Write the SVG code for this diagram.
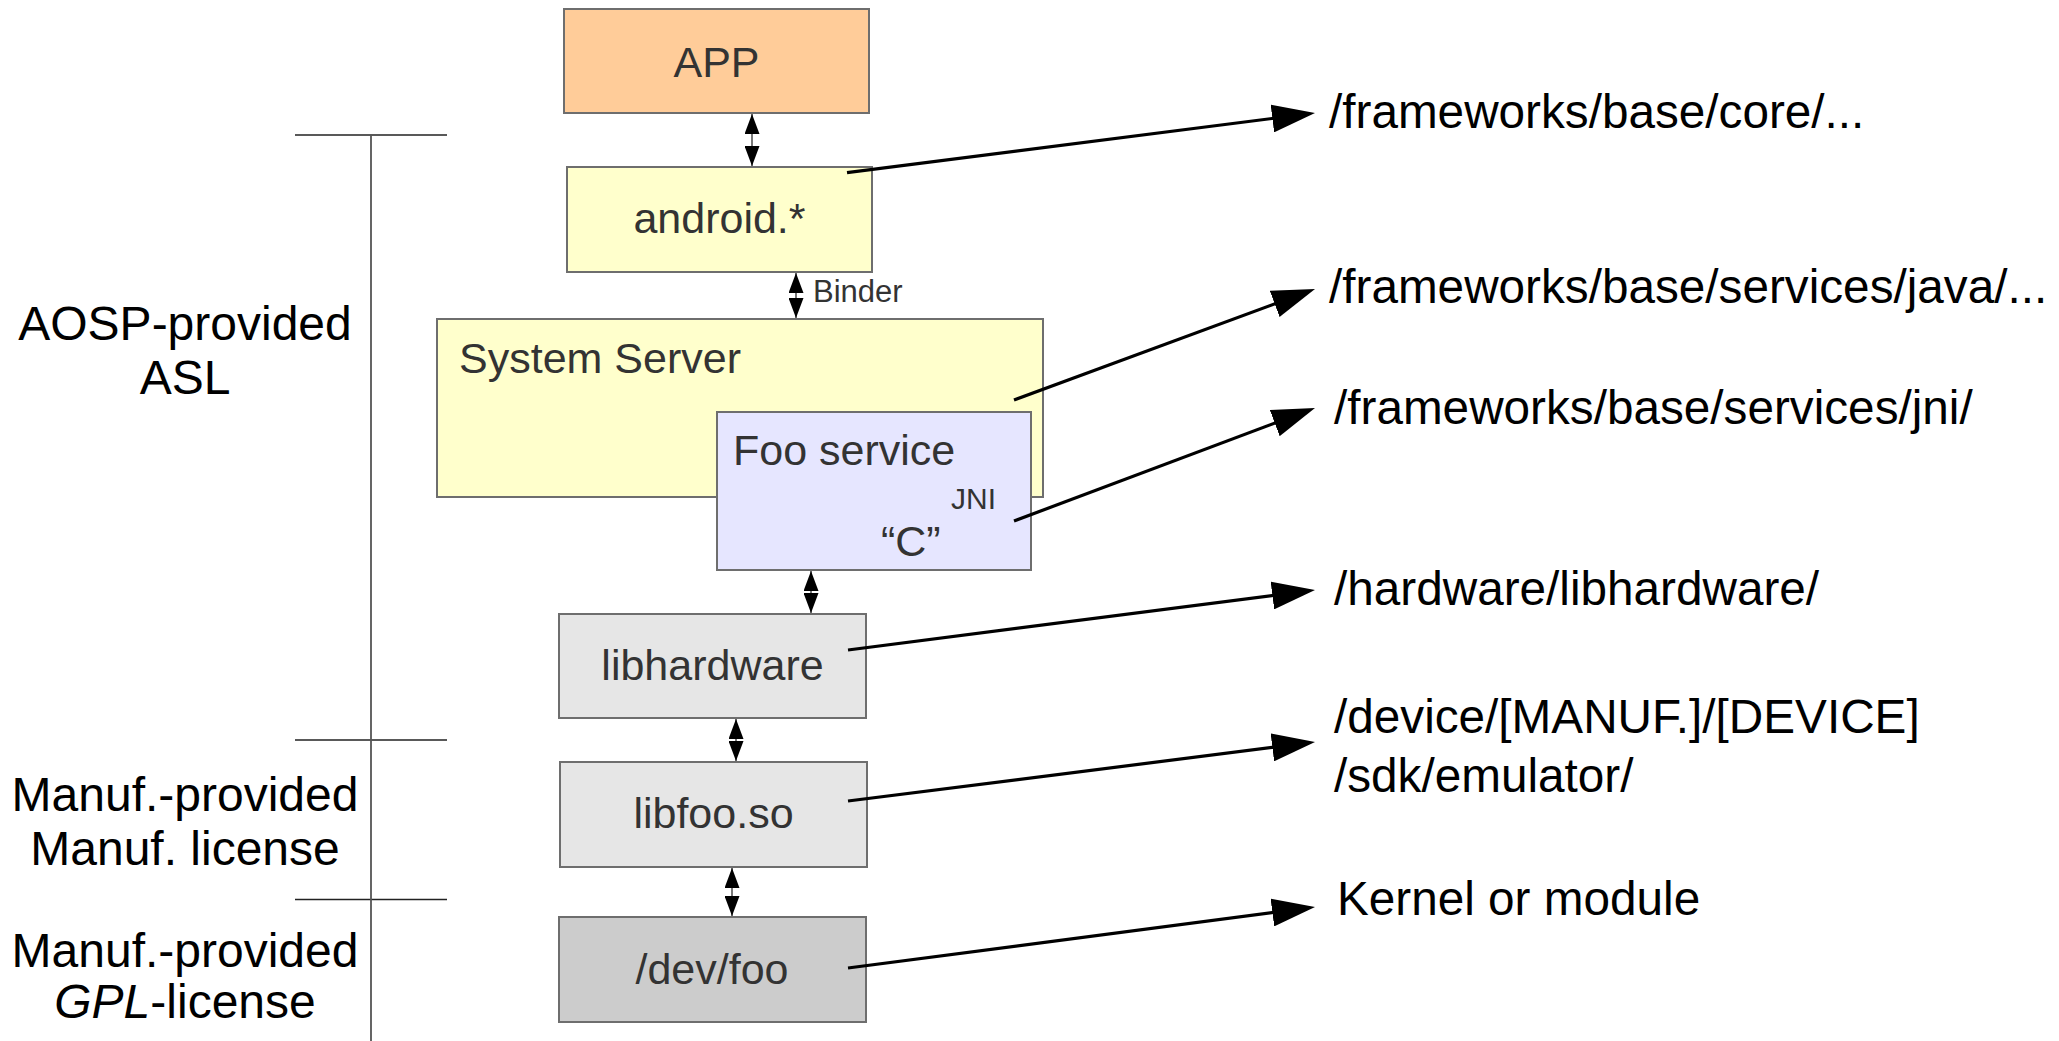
<svg xmlns="http://www.w3.org/2000/svg" width="2059" height="1041" viewBox="0 0 2059 1041">
<defs>
<style>
.box{stroke:#6e6e6e;stroke-width:2}
.bt{font-family:"Liberation Sans",Arial,sans-serif;font-size:43px;fill:#333333}
.lt{font-family:"Liberation Sans",Arial,sans-serif;font-size:48px;fill:#000000;text-anchor:middle}
.rt{font-family:"Liberation Sans",Arial,sans-serif;font-size:47.7px;fill:#000000}
.br{stroke:#222;stroke-width:1.3;fill:none}
.big{stroke:#000;stroke-width:3.2;fill:none;marker-end:url(#bigHead)}
.dbl{stroke:#555;stroke-width:1.6;fill:none;marker-start:url(#smHead);marker-end:url(#smHead)}
</style>
<marker id="bigHead" markerUnits="userSpaceOnUse" markerWidth="43" markerHeight="28" refX="21" refY="14" orient="auto" viewBox="0 0 43 28">
<path d="M0,0 L43,14 L0,28 z" fill="#000"/>
</marker>
<marker id="smHead" markerUnits="userSpaceOnUse" markerWidth="20" markerHeight="15" refX="20" refY="7.5" orient="auto-start-reverse" viewBox="0 0 20 15">
<path d="M0,0 L20,7.5 L0,15 z" fill="#000"/>
</marker>
</defs>
<rect width="2059" height="1041" fill="#ffffff"/>

<g id="bracket">
<line class="br" x1="295" y1="135" x2="447" y2="135"/>
<line class="br" x1="295" y1="740" x2="447" y2="740"/>
<line class="br" x1="295" y1="899.5" x2="447" y2="899.5"/>
<line x1="371" y1="135" x2="371" y2="1041" stroke="#555" stroke-width="1.8"/>
</g>

<g id="labels-left">
<text class="lt" x="185" y="340">AOSP-provided</text>
<text class="lt" x="185" y="394">ASL</text>
<text class="lt" x="185" y="811">Manuf.-provided</text>
<text class="lt" x="185" y="865">Manuf. license</text>
<text class="lt" x="185" y="967">Manuf.-provided</text>
<text class="lt" x="185" y="1018"><tspan font-style="italic">GPL</tspan>-license</text>
</g>

<g id="node-app">
<rect class="box" x="564" y="9" width="305" height="104" fill="#ffcc99"/>
<text class="bt" x="716.5" y="77" text-anchor="middle">APP</text>
</g>
<g id="node-android">
<rect class="box" x="567" y="167" width="305" height="105" fill="#ffffcc"/>
<text class="bt" x="719.5" y="233" text-anchor="middle">android.*</text>
</g>
<g id="node-system-server">
<rect class="box" x="437" y="319" width="606" height="178" fill="#ffffcc"/>
<text class="bt" x="459" y="373">System Server</text>
</g>
<g id="node-foo-service">
<rect class="box" x="717" y="412" width="314" height="158" fill="#e6e6ff"/>
<text class="bt" x="733" y="465">Foo service</text>
<text class="bt" x="996" y="509" text-anchor="end" style="font-size:30px">JNI</text>
<text class="bt" x="881" y="556">“C”</text>
</g>
<g id="node-libhardware">
<rect class="box" x="559" y="614" width="307" height="104" fill="#e6e6e6"/>
<text class="bt" x="712.5" y="680" text-anchor="middle">libhardware</text>
</g>
<g id="node-libfoo">
<rect class="box" x="560" y="762" width="307" height="105" fill="#e6e6e6"/>
<text class="bt" x="713.5" y="828" text-anchor="middle">libfoo.so</text>
</g>
<g id="node-devfoo">
<rect class="box" x="559" y="917" width="307" height="105" fill="#cccccc"/>
<text class="bt" x="712" y="984" text-anchor="middle">/dev/foo</text>
</g>

<g id="labels-right">
<text class="rt" x="1329" y="128">/frameworks/base/core/...</text>
<text class="rt" x="1329" y="303">/frameworks/base/services/java/...</text>
<text class="rt" x="1334" y="424">/frameworks/base/services/jni/</text>
<text class="rt" x="1334" y="605">/hardware/libhardware/</text>
<text class="rt" x="1334" y="733">/device/[MANUF.]/[DEVICE]</text>
<text class="rt" x="1334" y="792">/sdk/emulator/</text>
<text class="rt" x="1337" y="915">Kernel or module</text>
</g>

<g id="connectors">
<line class="dbl" x1="752" y1="114" x2="752" y2="166"/>
<line class="dbl" x1="796" y1="273" x2="796" y2="318"/>
<line class="dbl" x1="811" y1="571" x2="811" y2="613"/>
<line class="dbl" x1="736" y1="719" x2="736" y2="761"/>
<line class="dbl" x1="732" y1="868" x2="732" y2="916"/>
<text x="813" y="301.5" font-family="Liberation Sans, Arial, sans-serif" font-size="31" fill="#333333">Binder</text>
<line class="big" x1="847" y1="172.7" x2="1293.2" y2="115.8"/>
<line class="big" x1="1014" y1="400" x2="1294.4" y2="296.6"/>
<line class="big" x1="1014" y1="521" x2="1294.4" y2="415.7"/>
<line class="big" x1="848" y1="650" x2="1293.2" y2="592.8"/>
<line class="big" x1="848" y1="801" x2="1293.2" y2="744.8"/>
<line class="big" x1="848" y1="968" x2="1293.2" y2="909.8"/>
</g>
</svg>
